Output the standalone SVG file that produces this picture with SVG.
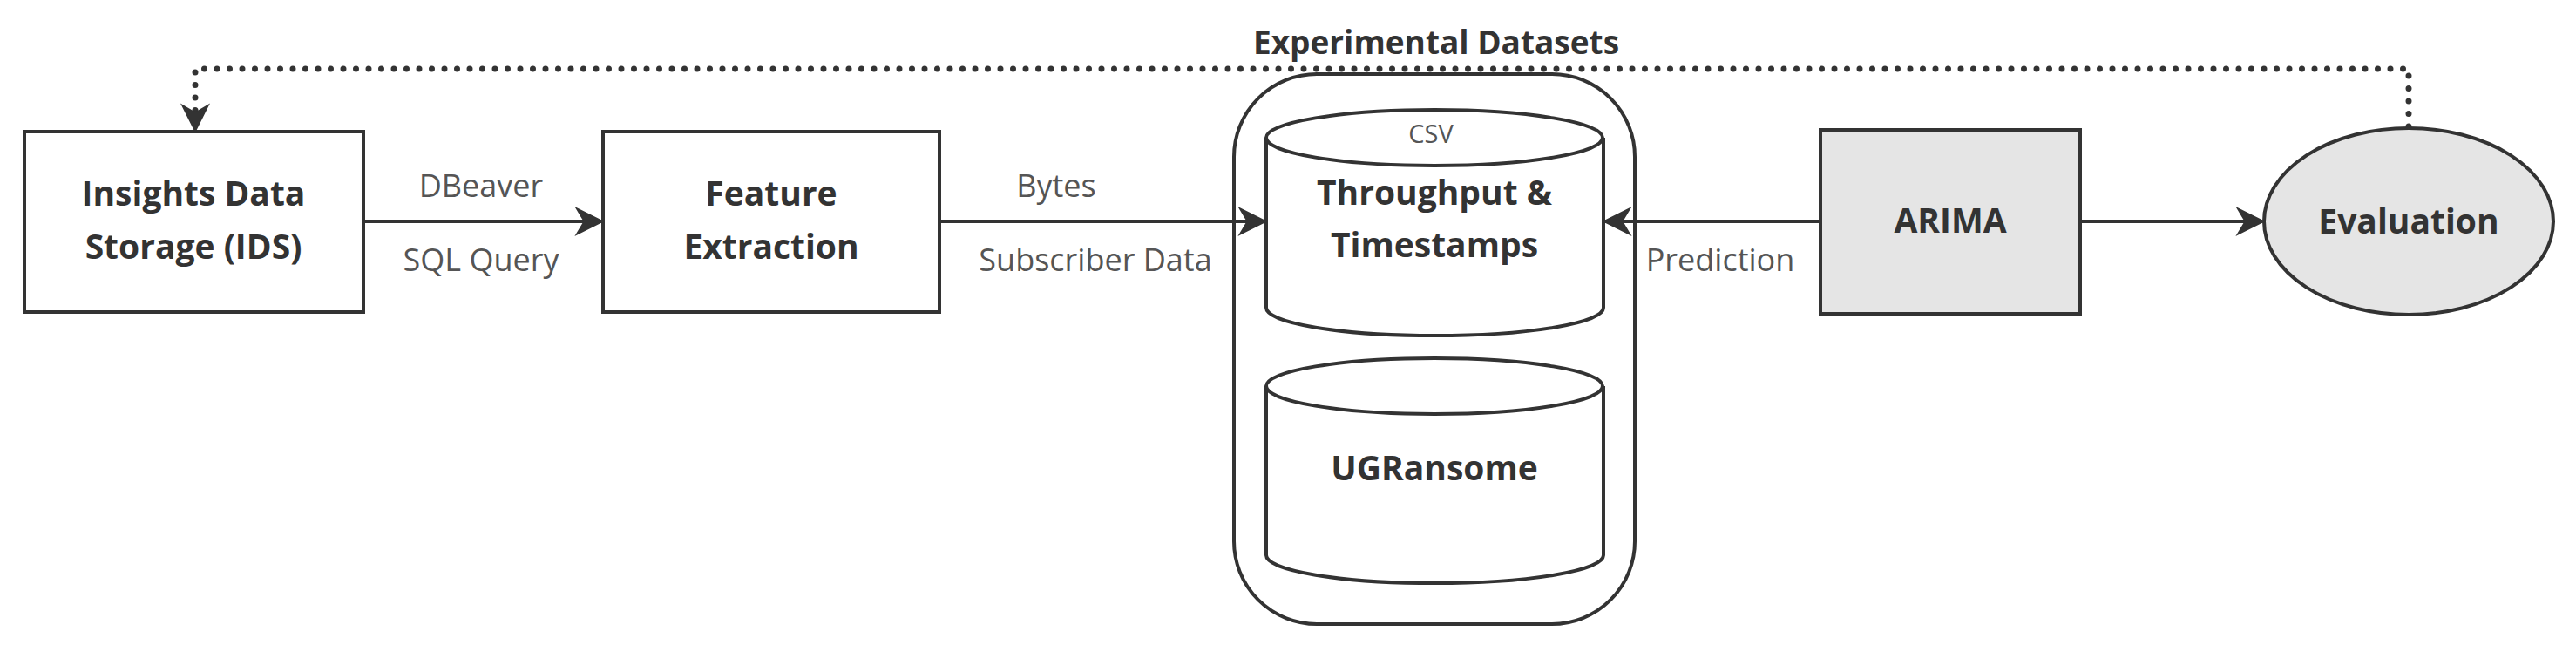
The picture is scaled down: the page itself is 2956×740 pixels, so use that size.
<svg xmlns="http://www.w3.org/2000/svg" width="2956" height="740" viewBox="0 0 2956 740">
<defs>
<style>
.n{fill:#fff;stroke:#333;stroke-width:4}
.g{fill:#e5e5e5;stroke:#333;stroke-width:4}
.t{font-family:"Open Sans",sans-serif;font-weight:bold;font-size:39px;fill:#333;text-anchor:middle}
.l{font-family:"Open Sans",sans-serif;font-size:36px;fill:#555;text-anchor:middle}
.c{fill:none;stroke:#333;stroke-width:4}
</style>
<marker id="a" viewBox="0 0 10 10" refX="9" refY="5" markerWidth="5" markerHeight="5" orient="auto" markerUnits="userSpaceOnUse" style="overflow:visible">
<path d="M0,0 L10,5 L0,10 L3,5 Z" fill="#333" transform="scale(1)"/>
</marker>
<marker id="b" viewBox="0 0 10 10" refX="9" refY="5" markerWidth="34" markerHeight="34" orient="auto" markerUnits="userSpaceOnUse">
<path d="M0,0 L10,5 L0,10 L3,5 Z" fill="#333"/>
</marker>
</defs>
<g id="ids"><rect class="n" x="28" y="151" width="389" height="207"/><text class="t" x="222" y="236">Insights Data</text><text class="t" x="222" y="297">Storage (IDS)</text></g>
<g id="feature"><rect class="n" x="692" y="151" width="386" height="207"/><text class="t" x="885" y="236">Feature</text><text class="t" x="885" y="297">Extraction</text></g>
<g id="container"><rect class="n" x="1416" y="85" width="460" height="631" rx="95"/></g>
<g id="throughput"><path class="n" d="M1453,158 V353 A193,32 0 0 0 1840,353 V158"/><ellipse class="n" cx="1646" cy="158" rx="193" ry="32"/><text class="l" x="1642" y="164" style="font-size:29px">CSV</text><text class="t" x="1646" y="235">Throughput &amp;</text><text class="t" x="1646" y="295">Timestamps</text></g>
<g id="ugransome"><path class="n" d="M1453,443 V637 A193,32 0 0 0 1840,637 V443"/><ellipse class="n" cx="1646" cy="443" rx="193" ry="32"/><text class="t" x="1646" y="551">UGRansome</text></g>
<g id="arima"><rect class="g" x="2089" y="149" width="298" height="211"/><text class="t" x="2238" y="267">ARIMA</text></g>
<g id="evaluation"><ellipse class="g" cx="2764" cy="254" rx="166" ry="107"/><text class="t" x="2764" y="268">Evaluation</text></g>
<g id="connectors">
<line class="c" x1="417" y1="254" x2="690" y2="254" marker-end="url(#b)"/>
<line class="c" x1="1078" y1="254" x2="1451" y2="254" marker-end="url(#b)"/>
<line class="c" x1="2089" y1="254" x2="1842" y2="254" marker-end="url(#b)"/>
<line class="c" x1="2387" y1="254" x2="2596" y2="254" marker-end="url(#b)"/>
<path d="M2764,145 V79 H224 V149" fill="none" stroke="#333" stroke-width="7" stroke-linecap="round" stroke-dasharray="0 14.5" marker-end="url(#b)"/>
<text class="l" x="552" y="226">DBeaver</text>
<text class="l" x="552" y="311">SQL Query</text>
<text class="l" x="1212" y="226">Bytes</text>
<text class="l" x="1257" y="311">Subscriber Data</text>
<text class="l" x="1974" y="311">Prediction</text>
<text class="t" x="1648" y="62" style="font-size:37px">Experimental Datasets</text>
</g>
</svg>
